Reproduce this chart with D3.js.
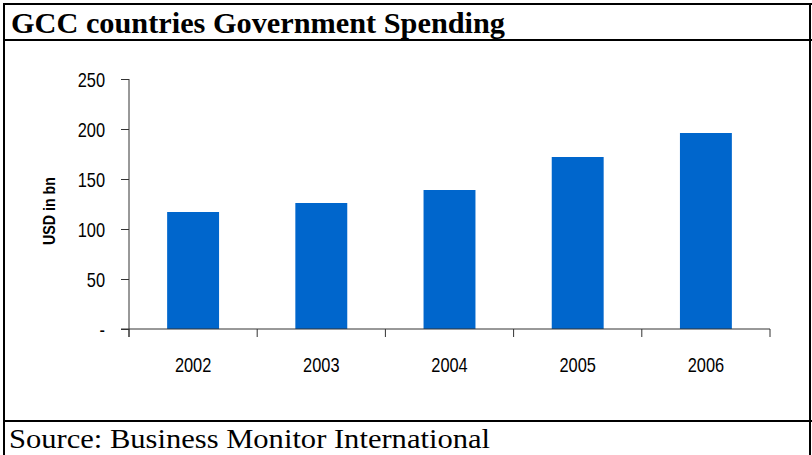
<!DOCTYPE html>
<html><head><meta charset="utf-8">
<script src="https://cdn.jsdelivr.net/npm/d3@7"></script>
<style>html,body{margin:0;padding:0;background:#fff}svg{display:block}</style>
</head><body>
<script>
const years = ["2002","2003","2004","2005","2006"];
const spending = [117, 126, 139, 172, 196];
const yTicks = [0, 50, 100, 150, 200, 250];
const yTickLabels = ["-", "50", "100", "150", "200", "250"];
const titleText = "GCC countries Government Spending";
const sourceText = "Source: Business Monitor International";
const yAxisTitle = "USD in bn";

const W = 812, H = 455;
const svg = d3.select("body").append("svg").attr("width", W).attr("height", H);

// frame
const frame = svg.append("g").attr("stroke", "#000").attr("stroke-width", 2);
frame.append("line").attr("x1", 3).attr("x2", W).attr("y1", 4).attr("y2", 4);
frame.append("line").attr("x1", 3).attr("x2", W).attr("y1", 40).attr("y2", 40);
frame.append("line").attr("x1", 3).attr("x2", W).attr("y1", 421).attr("y2", 421);
frame.append("line").attr("x1", 4).attr("x2", 4).attr("y1", 3).attr("y2", H);
frame.append("line").attr("x1", 810).attr("x2", 810).attr("y1", 3).attr("y2", H);

const serif = "'Times New Roman','Liberation Serif',Times,serif";
svg.append("text").attr("x", 11).attr("y", 33)
  .attr("font-family", serif)
  .attr("font-weight", "bold").attr("font-size", 30)
  .attr("textLength", 494).attr("lengthAdjust", "spacingAndGlyphs")
  .text(titleText);

svg.append("text").attr("x", 9).attr("y", 448)
  .attr("font-family", serif)
  .attr("font-size", 28)
  .attr("textLength", 481).attr("lengthAdjust", "spacingAndGlyphs")
  .text(sourceText);

const x = d3.scaleBand().domain(years).range([129, 770]).padding(0);
const y = d3.scaleLinear().domain([0, 250]).range([329, 79]);

const barW = x.bandwidth() * 0.405;
svg.append("g").selectAll("rect").data(years).join("rect")
  .attr("x", (d) => x(d) + x.bandwidth() / 2 - barW / 2)
  .attr("width", barW)
  .attr("y", (d, i) => y(spending[i]))
  .attr("height", (d, i) => y(0) - y(spending[i]))
  .attr("fill", "#0066CC");

const labelFont = "Arial,'Liberation Sans',sans-serif";

// y axis
const yAxis = d3.axisLeft(y).tickValues(yTicks)
  .tickFormat((d, i) => yTickLabels[i]).tickSize(8).tickPadding(16).tickSizeOuter(0);
const gy = svg.append("g").attr("transform", "translate(129,0)").call(yAxis);
gy.select(".domain").attr("stroke", "#333").attr("d", "M0,79V337");
gy.selectAll(".tick line").attr("stroke", "#333");
gy.selectAll("text").attr("font-family", labelFont).attr("font-size", 21).attr("fill", "#000")
  .attr("dy", "0.35em")
  .each(function () {
    const l = this.getComputedTextLength();
    d3.select(this).attr("textLength", l * 0.78).attr("lengthAdjust", "spacingAndGlyphs");
  });

// x axis
const xAxis = d3.axisBottom(x).tickSize(0).tickPadding(0);
const gx = svg.append("g").attr("transform", "translate(0,329)").call(xAxis);
gx.select(".domain").attr("stroke", "#333").attr("d", "M121,0H770");
gx.selectAll(".tick line").remove();
gx.selectAll("text").attr("font-family", labelFont).attr("font-size", 21).attr("fill", "#000")
  .attr("dy", 0).attr("y", 43)
  .each(function () {
    const l = this.getComputedTextLength();
    d3.select(this).attr("textLength", l * 0.78).attr("lengthAdjust", "spacingAndGlyphs");
  });
// category boundary ticks
svg.append("g").selectAll("line").data(years.concat(["end"])).join("line")
  .attr("x1", (d, i) => i < years.length ? x(d) : x(years[years.length - 1]) + x.bandwidth())
  .attr("x2", (d, i) => i < years.length ? x(d) : x(years[years.length - 1]) + x.bandwidth())
  .attr("y1", 329).attr("y2", 337).attr("stroke", "#333");

svg.append("text")
  .attr("transform", "translate(55,211) rotate(-90)")
  .attr("text-anchor", "middle")
  .attr("font-family", labelFont).attr("font-weight", "bold").attr("font-size", 17)
  .attr("textLength", 68).attr("lengthAdjust", "spacingAndGlyphs")
  .text(yAxisTitle);
</script>
</body></html>
